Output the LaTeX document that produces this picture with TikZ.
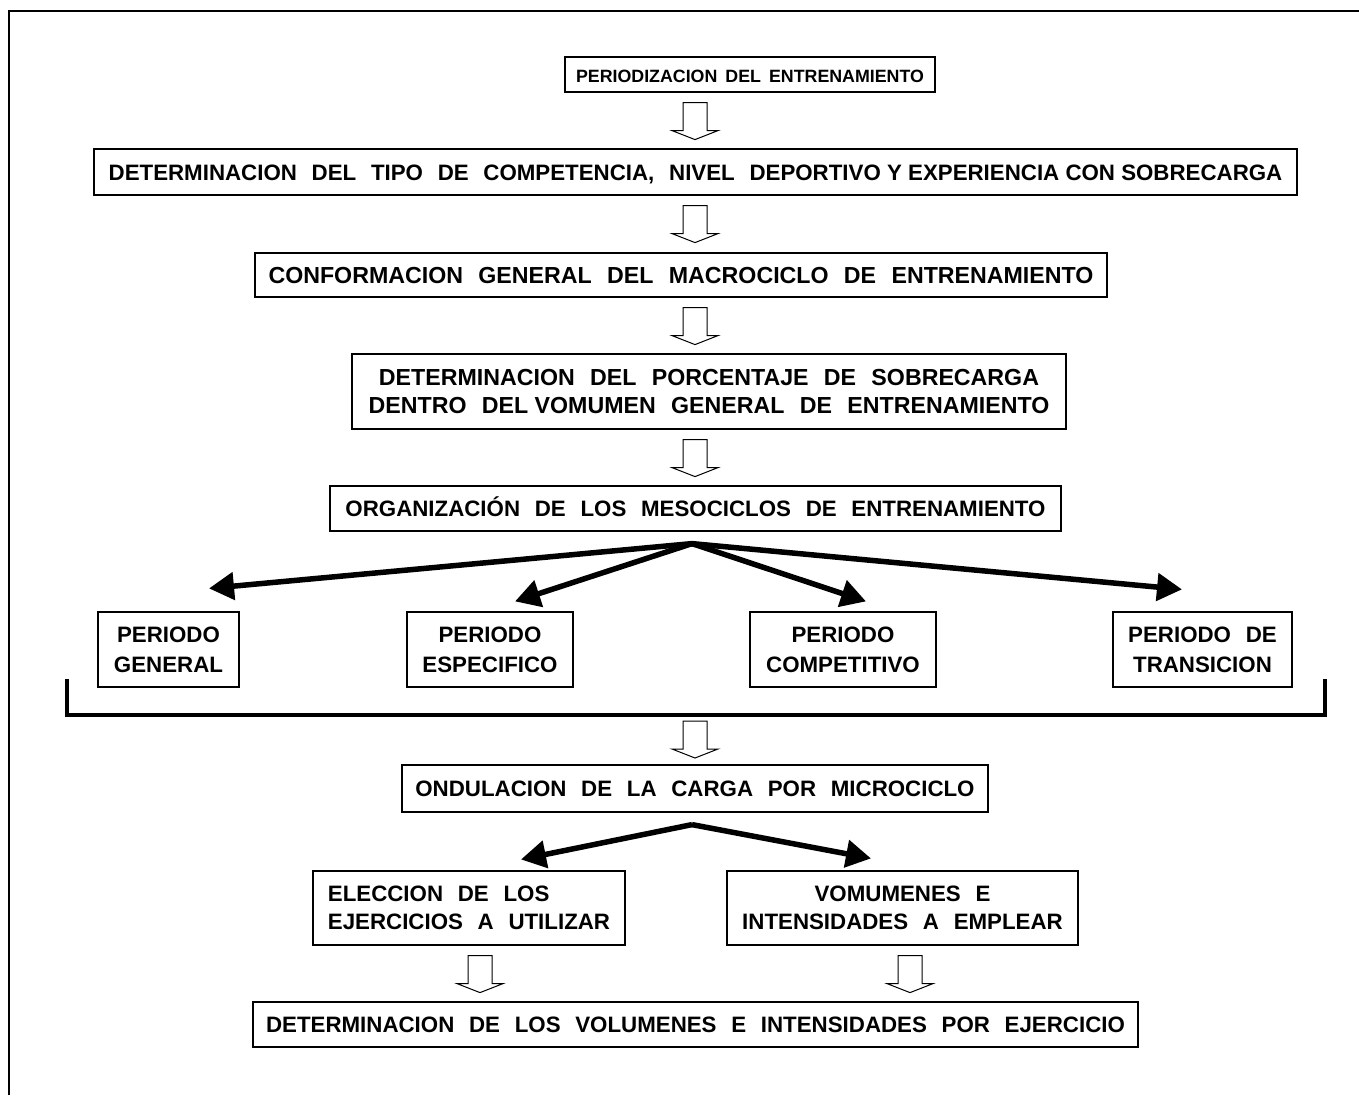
\documentclass[tikz,border=0pt]{standalone}
\usepackage{fontspec}
\setmainfont{Liberation Sans}
\usetikzlibrary{arrows.meta,calc}
\newcommand\dsp{\hspace*{0.66em}}
\newcommand\gapw[1]{\hspace*{#1}}
\newcommand\blockarrow[1]{\draw[blk] (#1) ++(-12,0) -- ++(24,0) -- ++(0,28) -- ++(11,0) -- ++(-23,9) -- ++(-23,-9) -- ++(11,0) -- cycle;}
\begin{document}
\begin{tikzpicture}[x=1pt,y=-1pt,
  box/.style={draw, line width=1.2pt, inner sep=0pt, align=center,
    font=\bfseries\fontsize{22.3}{28}\selectfont},
  big/.style={font=\bfseries\fontsize{23.2}{28}\selectfont},
  one/.style={text height=16pt, text depth=0pt},
  blk/.style={draw, line width=1pt, fill=white, line join=miter},
  fan/.style={line width=5.5pt, -{Triangle[length=25pt,width=27pt]}},
  bracket/.style={line width=4pt, line join=miter}
  ]
\useasboundingbox (0,0) rectangle (1359,1095);
\draw[line width=1.3pt] (9,1095) -- (9,11) -- (1359,11);

\node[box, one, minimum width=370, minimum height=35, font=\bfseries\fontsize{17.8}{22}\selectfont] (b1) at (750,74.5)
  {PERIODIZACION\gapw{0.45em}DEL\gapw{0.45em}ENTRENAMIENTO};
\node[box, one, minimum width=1203, minimum height=46] (b2) at (695.5,172)
  {DETERMINACION\dsp DEL\dsp TIPO\dsp DE\dsp COMPETENCIA,\dsp NIVEL\dsp DEPORTIVO Y EXPERIENCIA CON SOBRECARGA};
\node[box, big, one, minimum width=852, minimum height=44] (b3) at (681,275)
  {CONFORMACION\dsp GENERAL\dsp DEL\dsp MACROCICLO\dsp DE\dsp ENTRENAMIENTO};
\node[box, big, minimum width=714, minimum height=75] (b4) at (709,391.5)
  {DETERMINACION\dsp DEL\dsp PORCENTAJE\dsp DE\dsp SOBRECARGA\\
   DENTRO\dsp DEL VOMUMEN\dsp GENERAL\dsp DE\dsp ENTRENAMIENTO};
\node[box, one, minimum width=731, minimum height=45] (b5) at (695.5,508.5)
  {ORGANIZACIÓN\dsp DE\dsp LOS\dsp MESOCICLOS\dsp DE\dsp ENTRENAMIENTO};

\node[box, minimum width=141, minimum height=75, font=\bfseries\fontsize{22.3}{30}\selectfont] (p1) at (168.5,649.5) {PERIODO\\GENERAL};
\node[box, minimum width=166, minimum height=75, font=\bfseries\fontsize{22.3}{30}\selectfont] (p2) at (490,649.5) {PERIODO\\ESPECIFICO};
\node[box, minimum width=186, minimum height=75, font=\bfseries\fontsize{22.3}{30}\selectfont] (p3) at (843,649.5) {PERIODO\\COMPETITIVO};
\node[box, minimum width=179, minimum height=75, font=\bfseries\fontsize{22.3}{30}\selectfont] (p4) at (1202.5,649.5) {PERIODO\dsp DE\\TRANSICION};

\node[box, one, minimum width=586, minimum height=47] (b6) at (695,788.5)
  {ONDULACION\dsp DE\dsp LA\dsp CARGA\dsp POR\dsp MICROCICLO};
\node[box, align=left, minimum width=312, minimum height=74] (e1) at (469,908)
  {ELECCION\dsp DE\dsp LOS\\EJERCICIOS\dsp A\dsp UTILIZAR};
\node[box, minimum width=351, minimum height=74] (e2) at (902.5,908)
  {VOMUMENES\dsp E\\INTENSIDADES\dsp A\dsp EMPLEAR};
\node[box, one, minimum width=885, minimum height=45] (b7) at (695.5,1024.5)
  {DETERMINACION\dsp DE\dsp LOS\dsp VOLUMENES\dsp E\dsp INTENSIDADES\dsp POR\dsp EJERCICIO};

% block arrows
\coordinate (a1) at ($(b1.south -| 695,0)+(0,10)$);
\coordinate (a2) at ($(b2.south -| 695,0)+(0,10)$);
\coordinate (a3) at ($(b3.south -| 695,0)+(0,10)$);
\coordinate (a4) at ($(b4.south -| 695,0)+(0,10)$);
\coordinate (a5) at (695,721);
\coordinate (a6) at ($(e1.south -| 480,0)+(0,10)$);
\coordinate (a7) at ($(e2.south -| 910,0)+(0,10)$);
\blockarrow{a1}
\blockarrow{a2}
\blockarrow{a3}
\blockarrow{a4}
\blockarrow{a5}
\blockarrow{a6}
\blockarrow{a7}

% fan arrows
\coordinate (f1) at ($(b5.south)+(-3.5,12)$);
\draw[fan] (f1) -- ($(p1.north)+(40.5,-23)$);
\draw[fan] (f1) -- ($(p2.north)+(25,-10)$);
\draw[fan] (f1) -- ($(p3.north)+(23,-10)$);
\draw[fan] (f1) -- ($(p4.north)+(-20.5,-22)$);

\coordinate (f2) at ($(b6.south)+(-3,12)$);
\draw[fan] (f2) -- ($(e1.north)+(52,-11)$);
\draw[fan] (f2) -- ($(e2.north)+(-31.5,-12)$);

% bracket
\draw[bracket] (67,679) -- (67,715) -- (1325,715) -- (1325,679);
\end{tikzpicture}
\end{document}
